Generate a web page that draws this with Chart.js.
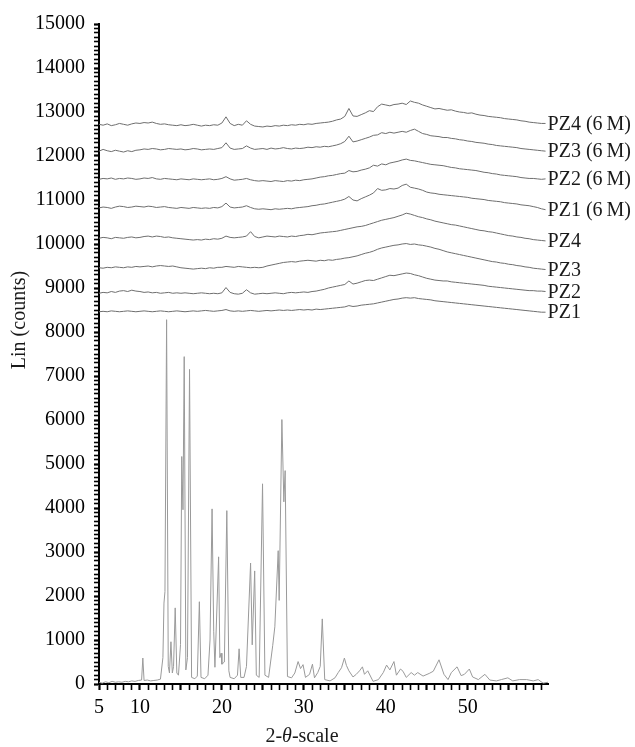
<!DOCTYPE html>
<html>
<head>
<meta charset="utf-8">
<title>XRD patterns</title>
<script src="https://cdn.jsdelivr.net/npm/chart.js@4.4.0/dist/chart.umd.min.js"></script>
<style>
  html, body { margin: 0; padding: 0; background: #fff; }
</style>
</head>
<body>
<canvas id="xrdChart" width="635" height="747"></canvas>
<script>
/**
 * Powder XRD patterns: the crystalline drug (bottom) and eight amorphous
 * samples stacked above it, each trace labelled at its right end.
 */

// 2-theta grid shared by the amorphous traces
const amorphTheta = [
    5, 5.5, 6, 6.5, 7, 7.5, 8, 8.5, 9, 9.5,
    10, 10.5, 11, 11.5, 12, 12.5, 13, 13.5, 14, 14.5,
    15, 15.5, 16, 16.5, 17, 17.5, 18, 18.5, 19, 19.5,
    20, 20.5, 21, 21.5, 22, 22.5, 23, 23.5, 24, 24.5,
    25, 25.5, 26, 26.5, 27, 27.5, 28, 28.5, 29, 29.5,
    30, 30.5, 31, 31.5, 32, 32.5, 33, 33.5, 34, 34.5,
    35, 35.5, 36, 36.5, 37, 37.5, 38, 38.5, 39, 39.5,
    40, 40.5, 41, 41.5, 42, 42.5, 43, 43.5, 44, 44.5,
    45, 45.5, 46, 46.5, 47, 47.5, 48, 48.5, 49, 49.5,
    50, 50.5, 51, 51.5, 52, 52.5, 53, 53.5, 54, 54.5,
    55, 55.5, 56, 56.5, 57, 57.5, 58, 58.5, 59, 59.5
];

const pz4_6m = [
    12720, 12700, 12730, 12690, 12710, 12740, 12720, 12700, 12730, 12750,
    12740, 12760, 12750, 12770, 12740, 12720, 12730, 12710, 12700, 12690,
    12710, 12690, 12700, 12720, 12700, 12680, 12700, 12690, 12710, 12700,
    12750, 12890, 12740, 12690, 12720, 12700, 12800, 12720, 12680, 12670,
    12660, 12680, 12670, 12690, 12680, 12700, 12690, 12710, 12700, 12720,
    12710, 12730, 12720, 12740, 12750, 12760, 12770, 12790, 12820, 12840,
    12900, 13080, 12910, 12900, 12940, 12980, 13030, 13010, 13120, 13180,
    13160, 13140, 13170, 13180, 13200, 13170, 13250, 13220, 13200, 13160,
    13130, 13100, 13070, 13080, 13060, 13040, 13050, 13020, 13000, 12990,
    12970, 12980, 12950, 12930, 12920, 12900, 12890, 12880, 12870, 12850,
    12840, 12830, 12820, 12800, 12790, 12770, 12760, 12750, 12740, 12740
];

const pz3_6m = [
    12110, 12150, 12120, 12100, 12130, 12110, 12090, 12120, 12100, 12130,
    12140, 12160, 12150, 12170, 12160, 12140, 12150, 12170, 12160, 12150,
    12160, 12140, 12150, 12170, 12160, 12140, 12150, 12160, 12150, 12170,
    12190, 12300, 12180, 12150, 12160, 12170, 12230, 12180, 12150, 12160,
    12170, 12150, 12180, 12160, 12170, 12190, 12170, 12160, 12180, 12170,
    12180, 12200, 12190, 12210, 12200, 12220, 12210, 12230, 12250, 12280,
    12330, 12450, 12320, 12340, 12370, 12400, 12430, 12470, 12480, 12530,
    12510, 12540, 12520, 12540, 12560, 12540, 12580, 12610, 12560, 12510,
    12490, 12460, 12450, 12440, 12420, 12420, 12400, 12390, 12370, 12360,
    12340, 12330, 12310, 12300, 12290, 12270, 12260, 12240, 12230, 12220,
    12210, 12200, 12190, 12170, 12160, 12150, 12140, 12130, 12120, 12110
];

const pz2_6m = [
    11470, 11490, 11480, 11500, 11470, 11490, 11480, 11500, 11490, 11470,
    11480, 11500, 11490, 11510, 11480, 11470, 11490, 11480, 11470, 11460,
    11480, 11470, 11460, 11480, 11470, 11460, 11470, 11480, 11460, 11470,
    11490, 11530, 11480, 11450, 11460, 11470, 11490, 11460, 11440, 11430,
    11440, 11430, 11420, 11440, 11430, 11420, 11440, 11430, 11450, 11440,
    11460, 11470, 11480, 11500, 11520, 11530, 11550, 11560, 11580, 11600,
    11610, 11670, 11640, 11650, 11680, 11700, 11730, 11790, 11770, 11820,
    11800, 11840, 11860, 11880, 11910, 11930, 11900, 11890, 11870, 11850,
    11830, 11810, 11800, 11790, 11780, 11760, 11740, 11730, 11710, 11700,
    11690, 11680, 11670, 11650, 11630, 11620, 11600, 11590, 11570, 11560,
    11550, 11540, 11530, 11510, 11500, 11490, 11490, 11480, 11470, 11480
];

const pz1_6m = [
    10820, 10840, 10830, 10810, 10840, 10860, 10850, 10830, 10840, 10860,
    10850, 10840, 10860, 10850, 10830, 10840, 10850, 10830, 10820, 10810,
    10830, 10820, 10810, 10830, 10820, 10810, 10820, 10810, 10830, 10820,
    10850, 10930, 10840, 10820, 10830, 10840, 10870, 10830, 10800, 10790,
    10800, 10790, 10780, 10800, 10790, 10800, 10810, 10800, 10820, 10830,
    10840, 10850, 10870, 10880, 10900, 10910, 10930, 10950, 10970, 10990,
    11020, 11080, 11000, 10980, 11030, 11070, 11110, 11160, 11260, 11220,
    11230, 11260, 11250, 11270, 11330, 11360, 11290, 11270, 11250, 11220,
    11180, 11160, 11150, 11130, 11120, 11110, 11100, 11090, 11080, 11070,
    11060, 11040, 11030, 11020, 11010, 10990, 10980, 10970, 10960, 10940,
    10930, 10920, 10910, 10890, 10880, 10870, 10850, 10830, 10800, 10780
];

const pz4 = [
    10130, 10150, 10140, 10120, 10150, 10140, 10130, 10150, 10160, 10140,
    10150, 10170, 10180, 10160, 10180, 10170, 10150, 10160, 10140, 10130,
    10120, 10110, 10100, 10090, 10100, 10090, 10110, 10100, 10120, 10110,
    10130, 10180, 10150, 10140, 10150, 10160, 10180, 10280, 10170, 10140,
    10160, 10180, 10170, 10160, 10180, 10170, 10160, 10180, 10170, 10190,
    10200, 10220, 10210, 10230, 10250, 10260, 10270, 10280, 10290, 10310,
    10330, 10350, 10370, 10390, 10400, 10420, 10450, 10480, 10510, 10540,
    10560, 10580, 10600, 10630, 10660, 10700, 10680, 10650, 10620, 10600,
    10570, 10550, 10520, 10500, 10480, 10460, 10440, 10430, 10410, 10390,
    10370, 10350, 10330, 10310, 10300, 10280, 10270, 10250, 10230, 10210,
    10190, 10180, 10160, 10150, 10130, 10120, 10100, 10090, 10080, 10070
];

const pz3 = [
    9460, 9450, 9470, 9460, 9480, 9470, 9460, 9480, 9470, 9490,
    9480, 9490, 9500, 9480, 9500, 9510, 9500, 9490, 9500, 9480,
    9460, 9450, 9440, 9430, 9440, 9450, 9440, 9460, 9450, 9470,
    9470, 9490, 9480, 9470, 9490, 9480, 9470, 9460, 9470, 9460,
    9470, 9500, 9520, 9540, 9560, 9580, 9590, 9600, 9590, 9610,
    9620, 9630, 9620, 9610, 9630, 9620, 9640, 9630, 9650, 9660,
    9680, 9690, 9710, 9730, 9760, 9790, 9810, 9840, 9880, 9910,
    9930, 9950, 9970, 9980, 10000, 10010, 9990, 10000, 9980, 9970,
    9950, 9930, 9900, 9880, 9850, 9820, 9800, 9780, 9760, 9740,
    9720, 9700, 9680, 9660, 9640, 9620, 9600, 9590, 9570, 9560,
    9540, 9530, 9510, 9500, 9480, 9470, 9450, 9440, 9430, 9420
];

const pz2 = [
    8880, 8900, 8890, 8920, 8900, 8930, 8940, 8920, 8950, 8930,
    8920, 8900, 8910, 8890, 8900, 8880, 8890, 8900, 8880, 8890,
    8880, 8890, 8880, 8870, 8880, 8890, 8880, 8870, 8880, 8870,
    8890, 9010, 8900, 8870, 8860, 8880, 8960, 8890, 8860, 8870,
    8880, 8870, 8880, 8890, 8880, 8870, 8890, 8900, 8890, 8900,
    8910, 8900, 8920, 8930, 8950, 8970, 9000, 9020, 9040, 9060,
    9080, 9160, 9090, 9110, 9140, 9170, 9180, 9170, 9200, 9230,
    9260, 9290, 9280, 9300, 9320, 9340, 9330, 9300, 9280, 9250,
    9220, 9200, 9180, 9170, 9160, 9160, 9140, 9130, 9120, 9110,
    9100, 9090, 9080, 9070, 9060, 9040, 9030, 9020, 9010, 9000,
    8990, 8980, 8970, 8960, 8950, 8940, 8940, 8930, 8930, 8920
];

const pz1 = [
    8460, 8470, 8460, 8480, 8470, 8460, 8470, 8480, 8470, 8460,
    8470, 8480, 8470, 8460, 8470, 8480, 8470, 8460, 8470, 8480,
    8470, 8460, 8470, 8480, 8470, 8480, 8490, 8480, 8470, 8480,
    8490, 8510, 8480, 8470, 8480, 8470, 8480, 8490, 8480, 8470,
    8480, 8490, 8480, 8490, 8500, 8490, 8500, 8490, 8500, 8510,
    8500, 8510, 8500, 8520, 8510, 8520, 8530, 8540, 8550, 8560,
    8570, 8600, 8580, 8590, 8610, 8620, 8630, 8640, 8660, 8680,
    8700, 8720, 8740, 8750, 8770, 8780, 8770, 8780, 8760, 8750,
    8740, 8730, 8710, 8700, 8690, 8680, 8670, 8660, 8650, 8640,
    8630, 8620, 8610, 8600, 8590, 8580, 8570, 8560, 8550, 8540,
    8530, 8520, 8510, 8500, 8490, 8480, 8470, 8460, 8450, 8450
];

// crystalline pattern, sampled around each reflection
const crystTheta = [
    5.0, 5.4, 5.8, 6.2, 6.6, 7.0, 7.4, 7.8, 8.2, 8.6, 9.0, 9.4, 9.8, 10.2, 10.35, 10.5,
    10.9, 11.3, 11.7, 12.1, 12.5, 12.8, 12.93, 13.05, 13.25, 13.45, 13.6, 13.78, 13.95,
    14.1, 14.3, 14.5, 14.7, 14.95, 15.1, 15.25, 15.4, 15.6, 15.8, 16.05, 16.3, 16.7,
    17.0, 17.25, 17.45, 17.9, 18.3, 18.55, 18.8, 19.0, 19.15, 19.6, 19.75, 19.9, 20.0,
    20.3, 20.6, 20.85, 21.0, 21.5, 21.9, 22.1, 22.3, 22.7, 23.0, 23.5, 23.7, 24.0,
    24.2, 24.55, 24.96, 25.25, 25.7, 26.2, 26.46, 26.87, 26.99, 27.32, 27.56, 27.72,
    28.0, 28.5, 28.9, 29.3, 29.6, 29.9, 30.2, 30.7, 31.05, 31.3, 31.7, 32.0, 32.25,
    32.55, 33.2, 33.8, 34.2, 34.6, 34.95, 35.2, 35.5, 36.0, 36.4, 36.8, 37.15, 37.4,
    37.8, 38.45, 39.1, 39.7, 40.1, 40.5, 41.0, 41.3, 41.8, 42.1, 42.5, 43.1, 43.5,
    43.9, 44.55, 45.3, 45.8, 46.5, 47.1, 47.6, 48.0, 48.7, 49.2, 49.6, 50.2, 50.6,
    51.3, 52.1, 52.7, 53.5, 54.1, 54.9, 55.5, 56.3, 57.2, 58.0, 58.6, 59.2, 59.8
];

const crystCounts = [
    40, 20, 50, 30, 60, 40, 50, 40, 60, 50, 70, 60, 80, 90, 590, 80,
    90, 70, 80, 90, 110, 600, 1840, 2100, 8280, 400, 250, 960, 250,
    400, 1730, 250, 200, 900, 5170, 3960, 7440, 320, 600, 7150, 150, 120,
    180, 1870, 150, 120, 200, 1000, 3980, 1200, 380, 2890, 600, 700, 450,
    500, 3940, 300, 150, 120, 200, 800, 150, 150, 400, 2750, 890, 2570,
    200, 150, 4550, 200, 150, 870, 1300, 3030, 1900, 6010, 4140, 4850,
    170, 140, 250, 510, 350, 440, 150, 220, 450, 140, 260, 400, 1480,
    100, 70, 140, 260, 370, 590, 420, 300, 160, 220, 300, 390, 220,
    300, 60, 100, 260, 430, 320, 510, 200, 340, 290, 150, 260, 200,
    260, 180, 240, 290, 550, 220, 100, 260, 390, 190, 220, 340, 160,
    100, 220, 90, 70, 100, 140, 70, 100, 100, 70, 100, 20, 40
];

const traceLabels = [
    'PZ4 (6\u2009M)', 'PZ3 (6\u2009M)', 'PZ2 (6\u2009M)', 'PZ1 (6\u2009M)',
    'PZ4', 'PZ3', 'PZ2', 'PZ1'
];
const traceSeries = [pz4_6m, pz3_6m, pz2_6m, pz1_6m, pz4, pz3, pz2, pz1];

const xTickLabels = [5, 10, 20, 30, 40, 50];

const SERIF = '"Liberation Serif", "Times New Roman", serif';

/**
 * Pairs an x array with a y array into Chart.js point objects.
 */
function toPoints(xs, ys) {
    return xs.map((x, i) => ({ x: x, y: ys[i] }));
}

/**
 * Draws the trace labels at the right end of each stacked pattern and the axis titles.
 */
const labelPlugin = {
    id: 'traceLabels',
    afterDraw(chart) {
        const ctx = chart.ctx;
        ctx.save();
        ctx.fillStyle = '#1a1a1a';
        ctx.font = '20px ' + SERIF;
        ctx.textAlign = 'left';
        ctx.textBaseline = 'middle';
        chart.data.datasets.forEach((ds, i) => {
            if (!ds.endLabel) return;
            const pts = chart.getDatasetMeta(i).data;
            const last = pts[pts.length - 1];
            ctx.fillText(ds.endLabel, last.x + 2, last.y + 1);
        });

        // y title, rotated
        ctx.save();
        ctx.translate(20, 320);
        ctx.rotate(-Math.PI / 2);
        ctx.textAlign = 'center';
        ctx.fillText('Lin (counts)', 0, 0);
        ctx.restore();

        // x title with italic theta
        const parts = [['2-', '20px ' + SERIF], ['\u03b8', 'italic 20px ' + SERIF], ['-scale', '20px ' + SERIF]];
        let total = 0;
        parts.forEach(p => { ctx.font = p[1]; total += ctx.measureText(p[0]).width; });
        let px = 302 - total / 2;
        ctx.textBaseline = 'alphabetic';
        parts.forEach(p => {
            ctx.font = p[1];
            ctx.fillText(p[0], px, 742);
            px += ctx.measureText(p[0]).width;
        });
        ctx.restore();
    }
};

function createChart() {
    const datasets = [{
        data: toPoints(crystTheta, crystCounts),
        borderColor: '#9a9a9a',
        borderWidth: 1
    }];
    traceSeries.forEach((series, i) => {
        datasets.push({
            data: toPoints(amorphTheta, series),
            borderColor: '#6e6e6e',
            borderWidth: 1,
            endLabel: traceLabels[i]
        });
    });

    const ctx = document.getElementById('xrdChart').getContext('2d');
    return new Chart(ctx, {
        type: 'line',
        data: { datasets: datasets },
        options: {
            responsive: false,
            animation: false,
            devicePixelRatio: 1,
            layout: { padding: { top: 24, right: 87, bottom: 0, left: 0 } },
            elements: { point: { radius: 0 }, line: { tension: 0 } },
            plugins: { legend: { display: false }, tooltip: { enabled: false } },
            scales: {
                x: {
                    type: 'linear',
                    min: 5,
                    max: 59.8,
                    afterFit(scale) { scale.height = 63; },
                    border: { color: '#000', width: 2 },
                    grid: {
                        drawOnChartArea: false,
                        tickLength: 6,
                        tickColor: '#000',
                        tickWidth: c => (c.tick && Math.round(c.tick.value) % 5 === 0 ? 2.2 : 1.6)
                    },
                    ticks: {
                        stepSize: 1,
                        autoSkip: false,
                        includeBounds: false,
                        maxRotation: 0,
                        padding: 6,
                        color: '#000',
                        font: { family: SERIF, size: 20 },
                        callback: v => (xTickLabels.includes(Math.round(v)) ? String(Math.round(v)) : '')
                    }
                },
                y: {
                    type: 'linear',
                    min: 0,
                    max: 15000,
                    afterFit(scale) { scale.width = 99; },
                    border: { color: '#000', width: 2 },
                    grid: {
                        drawOnChartArea: false,
                        tickLength: 5,
                        tickColor: '#000',
                        tickWidth: c => (c.tick && Math.round(c.tick.value) % 1000 === 0 ? 2.2 : 1.6)
                    },
                    ticks: {
                        stepSize: 100,
                        autoSkip: false,
                        padding: 9,
                        color: '#000',
                        font: { family: SERIF, size: 20 },
                        callback: v => (Math.round(v) % 1000 === 0 ? String(Math.round(v)) : '')
                    }
                }
            }
        },
        plugins: [labelPlugin]
    });
}

window.onload = function() {
    window.xrdChart = createChart();
};
</script>
</body>
</html>
